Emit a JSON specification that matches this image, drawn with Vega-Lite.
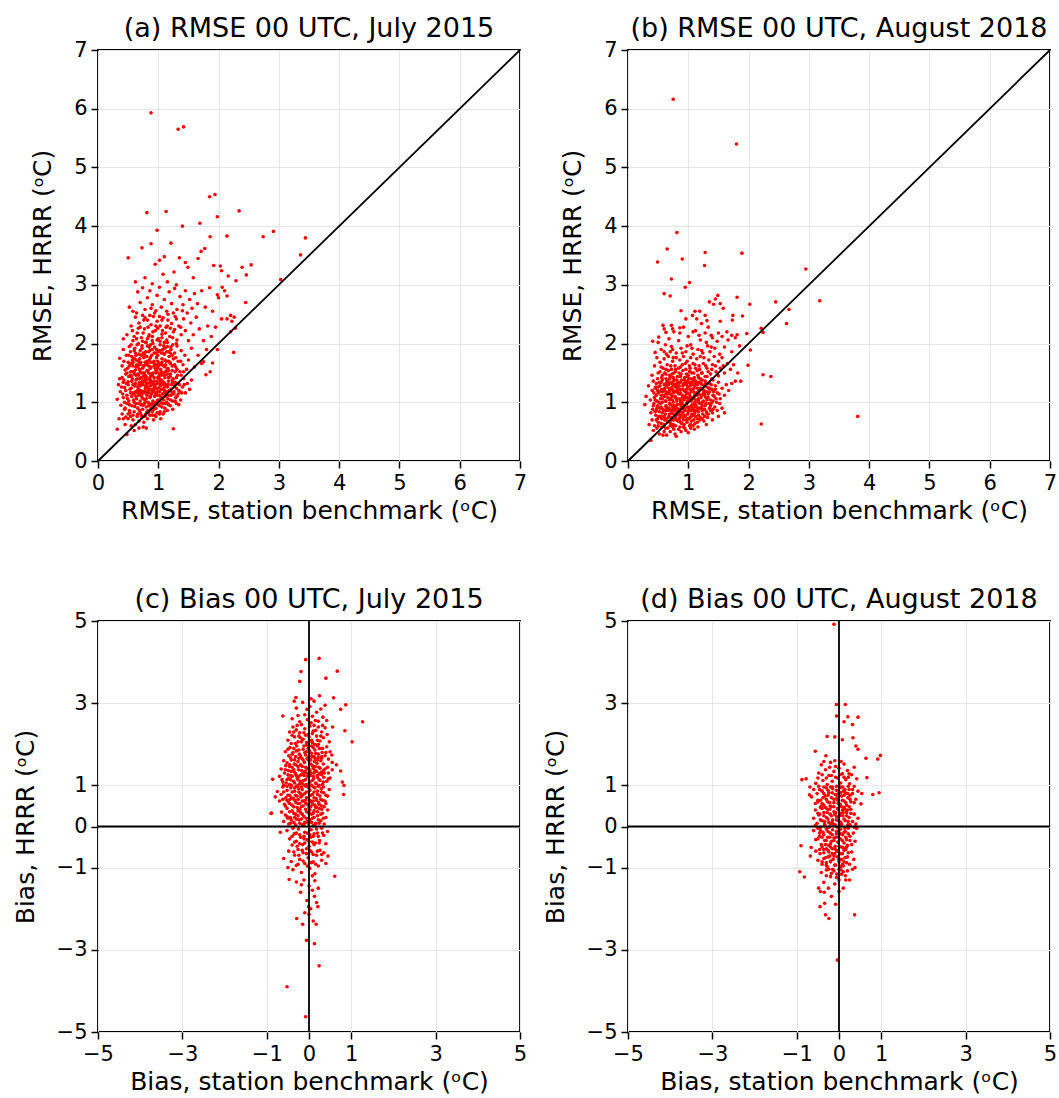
{
"$schema": "https://vega.github.io/schema/vega-lite/v6.json",
"datasets": {
"a": [
{"x":0.88,"y":5.93},{"x":1.33,"y":5.65},{"x":1.42,"y":5.69},{"x":1.85,"y":4.5},{"x":1.94,"y":4.54},{"x":0.81,"y":4.23},{"x":1.13,"y":4.25},{"x":2.34,"y":4.26},{"x":1.98,"y":4.16},{"x":1.4,"y":4.0},{"x":0.98,"y":3.93},{"x":1.69,"y":4.05},{"x":0.73,"y":3.63},{"x":0.88,"y":3.7},{"x":1.21,"y":3.71},{"x":0.5,"y":3.46},{"x":2.74,"y":3.82},{"x":2.91,"y":3.91},{"x":3.44,"y":3.8},{"x":1.86,"y":3.82},{"x":2.14,"y":3.83},{"x":3.36,"y":3.51},{"x":3.03,"y":3.09},{"x":1.71,"y":3.57},{"x":1.77,"y":3.62},{"x":2.39,"y":3.3},{"x":2.54,"y":3.34},{"x":2.46,"y":3.17},{"x":1.92,"y":3.33},{"x":2.03,"y":3.32},{"x":2.05,"y":3.24},{"x":2.45,"y":2.7},{"x":2.25,"y":1.85},{"x":1.25,"y":0.55},{"x":0.32,"y":0.54},{"x":0.48,"y":0.45},{"x":2.16,"y":3.15},{"x":2.29,"y":3.07},{"x":2.14,"y":2.81},{"x":2.26,"y":2.45},{"x":2.2,"y":2.48},{"x":2.28,"y":2.26},{"x":2.14,"y":2.42},{"x":1.98,"y":2.83},{"x":2.06,"y":2.96},{"x":1.79,"y":1.47},{"x":1.9,"y":1.67},{"x":1.98,"y":1.9},{"x":1.75,"y":1.69},
{"x":0.62,"y":3.05},{"x":0.78,"y":3.12},{"x":0.95,"y":3.35},{"x":1.02,"y":3.42},{"x":1.08,"y":3.18},{"x":1.15,"y":3.05},{"x":1.26,"y":3.22},{"x":1.35,"y":3.46},{"x":1.45,"y":3.38},{"x":1.49,"y":3.3},{"x":1.58,"y":3.12},{"x":1.66,"y":3.45},{"x":0.9,"y":3.02},{"x":1.3,"y":3.0},{"x":1.1,"y":3.48},
{"x":0.52,"y":2.62},{"x":0.58,"y":2.55},{"x":0.66,"y":2.88},{"x":0.7,"y":2.7},{"x":0.74,"y":2.95},{"x":0.78,"y":2.58},{"x":0.82,"y":2.78},{"x":0.86,"y":2.9},{"x":0.9,"y":2.66},{"x":0.94,"y":2.52},{"x":0.98,"y":2.82},{"x":1.02,"y":2.96},{"x":1.05,"y":2.62},{"x":1.1,"y":2.75},{"x":1.14,"y":2.55},{"x":1.18,"y":2.88},{"x":1.22,"y":2.68},{"x":1.27,"y":2.94},{"x":1.31,"y":2.58},{"x":1.36,"y":2.8},{"x":1.41,"y":2.66},{"x":1.45,"y":2.9},{"x":1.48,"y":2.52},{"x":1.52,"y":2.75},{"x":1.56,"y":2.6},{"x":1.6,"y":2.85},{"x":1.65,"y":2.68},{"x":1.72,"y":2.9},{"x":1.78,"y":2.62},{"x":1.85,"y":2.95},{"x":1.9,"y":2.55},{"x":2.0,"y":2.78},{"x":2.1,"y":2.9},{"x":0.88,"y":2.6},{"x":1.25,"y":2.52},
{"x":0.42,"y":2.08},{"x":0.48,"y":2.15},{"x":0.55,"y":2.3},{"x":0.58,"y":2.05},{"x":0.62,"y":2.45},{"x":0.65,"y":2.18},{"x":0.68,"y":2.35},{"x":0.72,"y":2.1},{"x":0.74,"y":2.48},{"x":0.77,"y":2.25},{"x":0.8,"y":2.02},{"x":0.82,"y":2.4},{"x":0.85,"y":2.15},{"x":0.88,"y":2.32},{"x":0.9,"y":2.05},{"x":0.92,"y":2.46},{"x":0.95,"y":2.22},{"x":0.98,"y":2.38},{"x":1.0,"y":2.08},{"x":1.03,"y":2.3},{"x":1.06,"y":2.16},{"x":1.08,"y":2.44},{"x":1.1,"y":2.02},{"x":1.13,"y":2.28},{"x":1.16,"y":2.4},{"x":1.19,"y":2.12},{"x":1.22,"y":2.34},{"x":1.25,"y":2.2},{"x":1.28,"y":2.46},{"x":1.31,"y":2.06},{"x":1.34,"y":2.3},{"x":1.38,"y":2.15},{"x":1.42,"y":2.42},{"x":1.45,"y":2.22},{"x":1.5,"y":2.05},{"x":1.54,"y":2.35},{"x":1.58,"y":2.15},{"x":1.63,"y":2.45},{"x":1.68,"y":2.25},{"x":1.75,"y":2.05},{"x":1.82,"y":2.3},{"x":1.88,"y":2.12},{"x":1.95,"y":2.28},{"x":2.05,"y":2.42},{"x":2.2,"y":2.2},{"x":2.22,"y":2.38},{"x":0.7,"y":2.28},{"x":0.84,"y":2.12},{"x":0.96,"y":2.3},{"x":1.12,"y":2.18},{"x":0.6,"y":2.12},{"x":0.78,"y":2.44},{"x":1.02,"y":2.46},{"x":1.2,"y":2.26},
{"x":0.36,"y":1.75},{"x":0.4,"y":1.62},{"x":0.42,"y":1.9},{"x":0.45,"y":1.55},{"x":0.47,"y":1.8},{"x":0.5,"y":1.68},{"x":0.52,"y":1.95},{"x":0.54,"y":1.52},{"x":0.56,"y":1.78},{"x":0.58,"y":1.62},{"x":0.6,"y":1.88},{"x":0.62,"y":1.55},{"x":0.63,"y":1.72},{"x":0.65,"y":1.98},{"x":0.66,"y":1.6},{"x":0.68,"y":1.82},{"x":0.7,"y":1.52},{"x":0.71,"y":1.68},{"x":0.73,"y":1.92},{"x":0.74,"y":1.58},{"x":0.76,"y":1.76},{"x":0.77,"y":1.5},{"x":0.79,"y":1.86},{"x":0.8,"y":1.64},{"x":0.82,"y":1.96},{"x":0.83,"y":1.54},{"x":0.85,"y":1.72},{"x":0.86,"y":1.88},{"x":0.88,"y":1.6},{"x":0.89,"y":1.8},{"x":0.91,"y":1.5},{"x":0.92,"y":1.68},{"x":0.94,"y":1.94},{"x":0.95,"y":1.58},{"x":0.97,"y":1.76},{"x":0.98,"y":1.52},{"x":1.0,"y":1.86},{"x":1.01,"y":1.66},{"x":1.03,"y":1.98},{"x":1.04,"y":1.56},{"x":1.06,"y":1.74},{"x":1.07,"y":1.9},{"x":1.09,"y":1.62},{"x":1.1,"y":1.82},{"x":1.12,"y":1.52},{"x":1.13,"y":1.7},{"x":1.15,"y":1.95},{"x":1.16,"y":1.58},{"x":1.18,"y":1.78},{"x":1.2,"y":1.66},{"x":1.21,"y":1.9},{"x":1.23,"y":1.54},{"x":1.25,"y":1.74},{"x":1.27,"y":1.84},{"x":1.29,"y":1.6},{"x":1.31,"y":1.96},{"x":1.33,"y":1.7},{"x":1.36,"y":1.52},{"x":1.38,"y":1.88},{"x":1.41,"y":1.64},{"x":1.44,"y":1.8},{"x":1.47,"y":1.56},{"x":1.5,"y":1.72},{"x":1.55,"y":1.92},{"x":1.6,"y":1.6},{"x":1.66,"y":1.8},{"x":1.72,"y":1.66},{"x":1.8,"y":1.9},{"x":1.86,"y":1.52},{"x":0.55,"y":1.66},{"x":0.6,"y":1.75},{"x":0.67,"y":1.7},{"x":0.72,"y":1.8},{"x":0.78,"y":1.68},{"x":0.84,"y":1.62},{"x":0.87,"y":1.98},{"x":0.93,"y":1.84},{"x":0.99,"y":1.7},{"x":1.05,"y":1.64},{"x":1.11,"y":1.92},{"x":1.17,"y":1.86},{"x":1.24,"y":1.98},{"x":0.69,"y":1.64},{"x":0.81,"y":1.78},{"x":0.96,"y":1.64},
{"x":0.32,"y":1.05},{"x":0.34,"y":1.3},{"x":0.37,"y":1.18},{"x":0.4,"y":1.42},{"x":0.42,"y":1.08},{"x":0.44,"y":1.25},{"x":0.46,"y":1.48},{"x":0.48,"y":1.12},{"x":0.5,"y":1.35},{"x":0.51,"y":1.02},{"x":0.53,"y":1.22},{"x":0.55,"y":1.44},{"x":0.56,"y":1.1},{"x":0.58,"y":1.3},{"x":0.59,"y":1.04},{"x":0.6,"y":1.48},{"x":0.62,"y":1.18},{"x":0.63,"y":1.38},{"x":0.64,"y":1.06},{"x":0.66,"y":1.26},{"x":0.67,"y":1.46},{"x":0.68,"y":1.12},{"x":0.69,"y":1.34},{"x":0.7,"y":1.02},{"x":0.71,"y":1.2},{"x":0.72,"y":1.42},{"x":0.73,"y":1.08},{"x":0.74,"y":1.3},{"x":0.75,"y":1.5},{"x":0.76,"y":1.16},{"x":0.77,"y":1.36},{"x":0.78,"y":1.04},{"x":0.79,"y":1.24},{"x":0.8,"y":1.44},{"x":0.81,"y":1.12},{"x":0.82,"y":1.32},{"x":0.83,"y":1.0},{"x":0.84,"y":1.2},{"x":0.85,"y":1.4},{"x":0.86,"y":1.08},{"x":0.87,"y":1.28},{"x":0.88,"y":1.48},{"x":0.89,"y":1.14},{"x":0.9,"y":1.34},{"x":0.91,"y":1.02},{"x":0.92,"y":1.22},{"x":0.93,"y":1.42},{"x":0.94,"y":1.1},{"x":0.95,"y":1.3},{"x":0.96,"y":1.5},{"x":0.97,"y":1.16},{"x":0.98,"y":1.36},{"x":0.99,"y":1.04},{"x":1.0,"y":1.24},{"x":1.01,"y":1.44},{"x":1.02,"y":1.12},{"x":1.03,"y":1.32},{"x":1.04,"y":1.06},{"x":1.05,"y":1.22},{"x":1.06,"y":1.46},{"x":1.07,"y":1.14},{"x":1.08,"y":1.34},{"x":1.09,"y":1.04},{"x":1.1,"y":1.26},{"x":1.11,"y":1.42},{"x":1.12,"y":1.1},{"x":1.13,"y":1.3},{"x":1.14,"y":1.18},{"x":1.15,"y":1.48},{"x":1.16,"y":1.06},{"x":1.17,"y":1.36},{"x":1.18,"y":1.2},{"x":1.2,"y":1.44},{"x":1.21,"y":1.12},{"x":1.22,"y":1.3},{"x":1.24,"y":1.02},{"x":1.25,"y":1.4},{"x":1.26,"y":1.18},{"x":1.28,"y":1.34},{"x":1.29,"y":1.08},{"x":1.3,"y":1.24},{"x":1.32,"y":1.46},{"x":1.33,"y":1.14},{"x":1.35,"y":1.3},{"x":1.37,"y":1.04},{"x":1.4,"y":1.26},{"x":1.42,"y":1.4},{"x":1.45,"y":1.16},{"x":1.48,"y":1.32},{"x":1.52,"y":1.22},{"x":1.55,"y":1.38},{"x":0.36,"y":1.4},{"x":0.61,"y":1.28},{"x":0.65,"y":1.4},{"x":0.7,"y":1.28},{"x":0.74,"y":1.18},{"x":0.78,"y":1.4},{"x":0.83,"y":1.26},{"x":0.87,"y":1.38},{"x":0.9,"y":1.18},{"x":0.94,"y":1.26},{"x":0.98,"y":1.18},{"x":1.02,"y":1.4},{"x":1.06,"y":1.3},{"x":1.1,"y":1.16},{"x":0.8,"y":1.06},{"x":0.72,"y":1.12},{"x":0.66,"y":1.16},
{"x":0.35,"y":0.72},{"x":0.38,"y":0.95},{"x":0.4,"y":0.8},{"x":0.42,"y":0.72},{"x":0.44,"y":0.88},{"x":0.46,"y":0.75},{"x":0.48,"y":0.98},{"x":0.5,"y":0.72},{"x":0.52,"y":0.86},{"x":0.54,"y":0.76},{"x":0.56,"y":0.94},{"x":0.58,"y":0.7},{"x":0.6,"y":0.84},{"x":0.62,"y":0.62},{"x":0.63,"y":0.98},{"x":0.65,"y":0.76},{"x":0.66,"y":0.9},{"x":0.68,"y":0.68},{"x":0.7,"y":0.82},{"x":0.71,"y":0.96},{"x":0.73,"y":0.74},{"x":0.74,"y":0.88},{"x":0.76,"y":0.66},{"x":0.77,"y":0.98},{"x":0.79,"y":0.8},{"x":0.8,"y":0.92},{"x":0.82,"y":0.72},{"x":0.83,"y":0.86},{"x":0.85,"y":0.98},{"x":0.86,"y":0.78},{"x":0.88,"y":0.9},{"x":0.9,"y":0.84},{"x":0.92,"y":0.96},{"x":0.94,"y":0.78},{"x":0.96,"y":0.9},{"x":0.98,"y":0.82},{"x":1.0,"y":0.96},{"x":1.03,"y":0.84},{"x":1.06,"y":0.92},{"x":1.08,"y":0.8},{"x":1.12,"y":0.98},{"x":1.15,"y":0.86},{"x":1.2,"y":0.94},{"x":1.24,"y":0.88},{"x":1.3,"y":0.98},{"x":1.34,"y":0.96},{"x":0.8,"y":0.56},{"x":0.55,"y":0.6},{"x":0.45,"y":0.62},{"x":0.6,"y":0.52},{"x":0.75,"y":0.58},{"x":0.92,"y":0.7},{"x":1.04,"y":0.72},{"x":0.68,"y":0.56},
{"x":0.45,"y":0.9},{"x":0.53,"y":0.82},{"x":0.61,"y":0.93},{"x":0.69,"y":0.86},{"x":0.75,"y":0.95},{"x":0.81,"y":0.84},{"x":0.87,"y":0.96},{"x":0.93,"y":0.88},{"x":0.99,"y":0.97},{"x":1.05,"y":0.99},{"x":1.11,"y":0.9},{"x":1.17,"y":0.96},
{"x":0.41,"y":1.14},{"x":0.49,"y":1.06},{"x":0.57,"y":1.16},{"x":0.63,"y":1.1},{"x":0.69,"y":1.18},{"x":0.75,"y":1.06},{"x":0.81,"y":1.16},{"x":0.87,"y":1.1},{"x":0.93,"y":1.18},{"x":0.99,"y":1.12},{"x":1.05,"y":1.08},{"x":1.11,"y":1.2},{"x":1.17,"y":1.12},{"x":1.23,"y":1.16},{"x":1.31,"y":1.1},{"x":1.39,"y":1.16},
{"x":0.39,"y":1.26},{"x":0.47,"y":1.32},{"x":0.55,"y":1.24},{"x":0.61,"y":1.3},{"x":0.67,"y":1.22},{"x":0.73,"y":1.34},{"x":0.79,"y":1.28},{"x":0.85,"y":1.22},{"x":0.91,"y":1.3},{"x":0.97,"y":1.24},{"x":1.03,"y":1.28},{"x":1.09,"y":1.34},{"x":1.15,"y":1.26},{"x":1.21,"y":1.22},{"x":1.27,"y":1.28},{"x":1.34,"y":1.2},{"x":1.43,"y":1.3},
{"x":0.43,"y":1.38},{"x":0.51,"y":1.44},{"x":0.57,"y":1.4},{"x":0.63,"y":1.46},{"x":0.69,"y":1.4},{"x":0.75,"y":1.44},{"x":0.81,"y":1.38},{"x":0.87,"y":1.44},{"x":0.93,"y":1.36},{"x":0.99,"y":1.42},{"x":1.05,"y":1.38},{"x":1.11,"y":1.46},{"x":1.17,"y":1.42},{"x":1.23,"y":1.38},{"x":1.3,"y":1.42},{"x":1.38,"y":1.46},
{"x":0.43,"y":1.7},{"x":0.49,"y":1.58},{"x":0.57,"y":1.52},{"x":0.63,"y":1.6},{"x":0.69,"y":1.56},{"x":0.75,"y":1.62},{"x":0.81,"y":1.54},{"x":0.87,"y":1.58},{"x":0.93,"y":1.62},{"x":0.99,"y":1.58},{"x":1.05,"y":1.52},{"x":1.11,"y":1.6},{"x":1.17,"y":1.54},{"x":1.23,"y":1.62},{"x":1.31,"y":1.56},{"x":1.42,"y":1.52},
{"x":0.51,"y":1.8},{"x":0.57,"y":1.72},{"x":0.63,"y":1.8},{"x":0.69,"y":1.74},{"x":0.75,"y":1.84},{"x":0.81,"y":1.7},{"x":0.87,"y":1.76},{"x":0.93,"y":1.7},{"x":0.99,"y":1.8},{"x":1.05,"y":1.84},{"x":1.11,"y":1.72},{"x":1.17,"y":1.7},{"x":1.23,"y":1.8},{"x":1.29,"y":1.76},{"x":1.37,"y":1.7},
{"x":0.55,"y":1.98},{"x":0.61,"y":1.92},{"x":0.67,"y":2.0},{"x":0.73,"y":1.96},{"x":0.79,"y":2.02},{"x":0.85,"y":1.94},{"x":0.91,"y":2.0},{"x":0.97,"y":1.9},{"x":1.03,"y":2.04},{"x":1.09,"y":1.96},{"x":1.15,"y":2.02},{"x":1.21,"y":1.94},{"x":1.3,"y":2.0},
{"x":0.57,"y":2.22},{"x":0.67,"y":2.26},{"x":0.75,"y":2.18},{"x":0.83,"y":2.28},{"x":0.91,"y":2.2},{"x":0.99,"y":2.26},{"x":1.07,"y":2.22},{"x":1.15,"y":2.3},{"x":1.27,"y":2.24},{"x":1.37,"y":2.28},
{"x":0.64,"y":2.52},{"x":0.76,"y":2.4},{"x":0.86,"y":2.48},{"x":0.96,"y":2.56},{"x":1.06,"y":2.4},{"x":1.16,"y":2.5},{"x":1.3,"y":2.42},{"x":1.4,"y":2.56},
{"x":0.5,"y":0.8},{"x":0.58,"y":0.78},{"x":0.66,"y":0.8},{"x":0.72,"y":0.78},{"x":0.78,"y":0.76},{"x":0.84,"y":0.82},{"x":0.9,"y":0.78},{"x":0.96,"y":0.76},{"x":1.02,"y":0.8},{"x":1.1,"y":0.84},
{"x":0.44,"y":1.0},{"x":0.52,"y":0.96},{"x":0.6,"y":1.0},{"x":0.66,"y":0.98},{"x":0.72,"y":0.96},{"x":0.78,"y":1.0},{"x":0.84,"y":0.94},{"x":0.9,"y":0.98},{"x":0.96,"y":1.0},{"x":1.02,"y":0.94},{"x":1.08,"y":0.98},{"x":1.14,"y":1.0},{"x":1.2,"y":1.04},{"x":1.28,"y":1.02},
{"x":0.46,"y":1.2},{"x":0.54,"y":1.16},{"x":0.6,"y":1.14},{"x":0.66,"y":1.2},{"x":0.72,"y":1.16},{"x":0.78,"y":1.2},{"x":0.84,"y":1.16},{"x":0.9,"y":1.22},{"x":0.96,"y":1.14},{"x":1.02,"y":1.18},{"x":1.08,"y":1.22},{"x":1.14,"y":1.14},{"x":1.2,"y":1.2},{"x":1.26,"y":1.14},{"x":1.36,"y":1.18},
{"x":0.42,"y":1.34},{"x":0.5,"y":1.3},{"x":0.56,"y":1.36},{"x":0.62,"y":1.32},{"x":0.68,"y":1.3},{"x":0.74,"y":1.36},{"x":0.8,"y":1.32},{"x":0.86,"y":1.34},{"x":0.92,"y":1.3},{"x":0.98,"y":1.32},{"x":1.04,"y":1.36},{"x":1.1,"y":1.32},{"x":1.16,"y":1.3},{"x":1.24,"y":1.34},{"x":1.32,"y":1.32},
{"x":0.48,"y":1.5},{"x":0.54,"y":1.46},{"x":0.6,"y":1.52},{"x":0.66,"y":1.48},{"x":0.72,"y":1.5},{"x":0.78,"y":1.46},{"x":0.84,"y":1.5},{"x":0.9,"y":1.46},{"x":0.96,"y":1.54},{"x":1.02,"y":1.48},{"x":1.08,"y":1.5},{"x":1.14,"y":1.54},{"x":1.2,"y":1.48},{"x":1.28,"y":1.52},
{"x":0.52,"y":1.62},{"x":0.58,"y":1.68},{"x":0.64,"y":1.64},{"x":0.7,"y":1.66},{"x":0.76,"y":1.62},{"x":0.82,"y":1.66},{"x":0.88,"y":1.68},{"x":0.94,"y":1.64},{"x":1.0,"y":1.62},{"x":1.06,"y":1.68},{"x":1.12,"y":1.64},{"x":1.19,"y":1.68},{"x":1.27,"y":1.64},
{"x":0.54,"y":1.86},{"x":0.62,"y":1.84},{"x":0.7,"y":1.88},{"x":0.77,"y":1.82},{"x":0.84,"y":1.86},{"x":0.9,"y":1.9},{"x":0.96,"y":1.84},{"x":1.02,"y":1.88},{"x":1.08,"y":1.84},{"x":1.14,"y":1.86},{"x":1.2,"y":1.84},
{"x":0.64,"y":2.08},{"x":0.74,"y":2.04},{"x":0.82,"y":2.08},{"x":0.9,"y":2.12},{"x":0.98,"y":2.06},{"x":1.06,"y":2.1},{"x":1.14,"y":2.06},{"x":1.24,"y":2.1}
],
"b": [
{"x":0.75,"y":6.16},{"x":1.8,"y":5.4},{"x":0.81,"y":3.89},{"x":0.65,"y":3.61},{"x":0.49,"y":3.39},{"x":0.9,"y":3.44},{"x":1.28,"y":3.55},{"x":1.27,"y":3.33},{"x":1.89,"y":3.54},{"x":2.95,"y":3.27},{"x":0.72,"y":3.1},{"x":1.02,"y":3.04},{"x":0.95,"y":2.96},{"x":0.6,"y":2.85},{"x":0.7,"y":2.81},{"x":1.49,"y":2.82},{"x":1.45,"y":2.76},{"x":1.81,"y":2.79},{"x":3.18,"y":2.73},{"x":2.45,"y":2.71},{"x":2.02,"y":2.67},{"x":2.67,"y":2.58},{"x":2.63,"y":2.34},{"x":2.21,"y":2.26},{"x":2.24,"y":2.19},{"x":1.9,"y":2.47},{"x":1.74,"y":2.48},{"x":2.24,"y":1.47},{"x":2.37,"y":1.44},{"x":2.21,"y":0.63},{"x":3.81,"y":0.76},{"x":1.87,"y":1.36},{"x":1.99,"y":1.63},{"x":2.03,"y":1.89},{"x":0.38,"y":0.35},{"x":0.28,"y":0.96},
{"x":1.35,"y":2.71},{"x":1.42,"y":2.67},{"x":1.53,"y":2.68},{"x":1.58,"y":2.6},{"x":0.88,"y":2.56},{"x":1.11,"y":2.55},{"x":1.19,"y":2.55},{"x":1.28,"y":2.48},{"x":1.07,"y":2.48},{"x":1.14,"y":2.42},{"x":0.96,"y":2.42},{"x":1.31,"y":2.39},{"x":1.53,"y":2.38},{"x":1.73,"y":2.4},{"x":0.58,"y":2.31},{"x":0.72,"y":2.31},{"x":0.74,"y":2.25},{"x":0.86,"y":2.27},{"x":1.22,"y":2.34},{"x":1.33,"y":2.28},{"x":0.63,"y":2.19},{"x":0.51,"y":2.11},{"x":1.08,"y":2.2},{"x":1.18,"y":2.14},{"x":1.38,"y":2.14},{"x":1.5,"y":2.18},{"x":1.64,"y":2.2},{"x":1.72,"y":2.14},{"x":1.81,"y":2.15},{"x":1.97,"y":2.17},{"x":0.41,"y":2.04},
{"x":0.45,"y":1.85},{"x":0.5,"y":2.02},{"x":0.55,"y":1.9},{"x":0.6,"y":2.25},{"x":0.64,"y":1.82},{"x":0.68,"y":2.08},{"x":0.72,"y":1.95},{"x":0.76,"y":2.2},{"x":0.8,"y":1.84},{"x":0.84,"y":2.05},{"x":0.88,"y":1.92},{"x":0.92,"y":2.28},{"x":0.96,"y":1.86},{"x":1.0,"y":2.12},{"x":1.04,"y":1.98},{"x":1.08,"y":1.82},{"x":1.12,"y":2.22},{"x":1.16,"y":1.9},{"x":1.2,"y":2.06},{"x":1.24,"y":1.84},{"x":1.28,"y":2.18},{"x":1.32,"y":1.96},{"x":1.36,"y":1.86},{"x":1.4,"y":2.1},{"x":1.44,"y":1.92},{"x":1.48,"y":2.04},{"x":1.52,"y":1.82},{"x":1.56,"y":2.12},{"x":1.6,"y":1.94},{"x":1.66,"y":2.06},{"x":1.72,"y":1.86},{"x":1.78,"y":2.1},{"x":1.85,"y":1.96},{"x":0.7,"y":1.86},{"x":0.98,"y":1.96},{"x":1.3,"y":2.02},{"x":0.62,"y":1.98},{"x":0.86,"y":2.18},
{"x":0.4,"y":1.46},{"x":0.44,"y":1.62},{"x":0.48,"y":1.76},{"x":0.5,"y":1.5},{"x":0.53,"y":1.68},{"x":0.56,"y":1.42},{"x":0.58,"y":1.58},{"x":0.6,"y":1.74},{"x":0.63,"y":1.48},{"x":0.65,"y":1.64},{"x":0.67,"y":1.78},{"x":0.7,"y":1.44},{"x":0.72,"y":1.56},{"x":0.74,"y":1.7},{"x":0.76,"y":1.5},{"x":0.78,"y":1.62},{"x":0.8,"y":1.76},{"x":0.82,"y":1.44},{"x":0.84,"y":1.58},{"x":0.86,"y":1.72},{"x":0.88,"y":1.48},{"x":0.9,"y":1.64},{"x":0.92,"y":1.78},{"x":0.94,"y":1.42},{"x":0.96,"y":1.56},{"x":0.98,"y":1.7},{"x":1.0,"y":1.46},{"x":1.02,"y":1.62},{"x":1.04,"y":1.76},{"x":1.06,"y":1.5},{"x":1.08,"y":1.66},{"x":1.1,"y":1.42},{"x":1.12,"y":1.58},{"x":1.14,"y":1.74},{"x":1.16,"y":1.46},{"x":1.18,"y":1.62},{"x":1.2,"y":1.78},{"x":1.22,"y":1.5},{"x":1.25,"y":1.66},{"x":1.28,"y":1.44},{"x":1.31,"y":1.58},{"x":1.34,"y":1.72},{"x":1.37,"y":1.48},{"x":1.4,"y":1.64},{"x":1.43,"y":1.78},{"x":1.46,"y":1.52},{"x":1.5,"y":1.7},{"x":1.53,"y":1.58},{"x":1.56,"y":1.76},{"x":1.6,"y":1.5},{"x":1.65,"y":1.66},{"x":1.7,"y":1.56},{"x":1.75,"y":1.64},{"x":1.82,"y":1.5},{"x":1.5,"y":1.45},{"x":1.58,"y":1.62},{"x":0.75,"y":1.76},{"x":1.02,"y":1.52},{"x":1.26,"y":1.76},{"x":1.45,"y":1.62},
{"x":0.3,"y":1.1},{"x":0.34,"y":1.28},{"x":0.37,"y":1.04},{"x":0.4,"y":1.2},{"x":0.42,"y":1.36},{"x":0.44,"y":1.08},{"x":0.46,"y":1.26},{"x":0.48,"y":1.02},{"x":0.5,"y":1.16},{"x":0.52,"y":1.34},{"x":0.54,"y":1.06},{"x":0.56,"y":1.22},{"x":0.57,"y":1.38},{"x":0.59,"y":1.12},{"x":0.6,"y":1.3},{"x":0.62,"y":1.02},{"x":0.63,"y":1.18},{"x":0.65,"y":1.36},{"x":0.66,"y":1.08},{"x":0.68,"y":1.24},{"x":0.69,"y":1.4},{"x":0.71,"y":1.14},{"x":0.72,"y":1.32},{"x":0.74,"y":1.04},{"x":0.75,"y":1.2},{"x":0.77,"y":1.38},{"x":0.78,"y":1.1},{"x":0.8,"y":1.28},{"x":0.81,"y":1.02},{"x":0.83,"y":1.16},{"x":0.84,"y":1.34},{"x":0.86,"y":1.06},{"x":0.87,"y":1.22},{"x":0.89,"y":1.38},{"x":0.9,"y":1.12},{"x":0.92,"y":1.3},{"x":0.93,"y":1.04},{"x":0.95,"y":1.18},{"x":0.96,"y":1.36},{"x":0.98,"y":1.08},{"x":0.99,"y":1.26},{"x":1.01,"y":1.4},{"x":1.02,"y":1.14},{"x":1.04,"y":1.32},{"x":1.05,"y":1.02},{"x":1.07,"y":1.2},{"x":1.08,"y":1.38},{"x":1.1,"y":1.1},{"x":1.11,"y":1.28},{"x":1.13,"y":1.04},{"x":1.14,"y":1.16},{"x":1.16,"y":1.34},{"x":1.17,"y":1.06},{"x":1.19,"y":1.24},{"x":1.2,"y":1.4},{"x":1.22,"y":1.12},{"x":1.23,"y":1.3},{"x":1.25,"y":1.02},{"x":1.26,"y":1.2},{"x":1.28,"y":1.36},{"x":1.29,"y":1.08},{"x":1.31,"y":1.26},{"x":1.33,"y":1.14},{"x":1.35,"y":1.32},{"x":1.37,"y":1.04},{"x":1.39,"y":1.22},{"x":1.41,"y":1.38},{"x":1.43,"y":1.1},{"x":1.45,"y":1.28},{"x":1.48,"y":1.16},{"x":1.5,"y":1.34},{"x":1.53,"y":1.06},{"x":1.56,"y":1.24},{"x":1.6,"y":1.12},{"x":1.63,"y":1.3},{"x":1.67,"y":1.2},{"x":1.72,"y":1.32},{"x":1.78,"y":1.36},{"x":0.5,"y":1.26},{"x":0.55,"y":1.12},{"x":0.6,"y":1.2},{"x":0.64,"y":1.28},{"x":0.7,"y":1.06},{"x":0.73,"y":1.26},{"x":0.79,"y":1.18},{"x":0.85,"y":1.28},{"x":0.88,"y":1.02},{"x":0.91,"y":1.22},{"x":0.97,"y":1.3},{"x":1.0,"y":1.06},{"x":1.03,"y":1.22},{"x":1.06,"y":1.3},{"x":1.09,"y":1.18},{"x":1.12,"y":1.36},{"x":1.15,"y":1.24},{"x":1.18,"y":1.14},{"x":1.21,"y":1.32},{"x":1.24,"y":1.22},{"x":1.27,"y":1.12},{"x":1.3,"y":1.18},{"x":1.34,"y":1.24},{"x":1.38,"y":1.3},{"x":1.42,"y":1.18},{"x":1.46,"y":1.06},{"x":0.82,"y":1.24},{"x":0.76,"y":1.3},{"x":0.67,"y":1.16},{"x":0.94,"y":1.1},{"x":1.0,"y":1.34},
{"x":0.35,"y":0.62},{"x":0.38,"y":0.82},{"x":0.4,"y":0.7},{"x":0.42,"y":0.94},{"x":0.44,"y":0.6},{"x":0.46,"y":0.78},{"x":0.48,"y":0.9},{"x":0.5,"y":0.66},{"x":0.52,"y":0.84},{"x":0.54,"y":0.98},{"x":0.56,"y":0.72},{"x":0.58,"y":0.88},{"x":0.6,"y":0.62},{"x":0.62,"y":0.8},{"x":0.63,"y":0.94},{"x":0.65,"y":0.68},{"x":0.66,"y":0.86},{"x":0.68,"y":0.76},{"x":0.7,"y":0.96},{"x":0.71,"y":0.64},{"x":0.73,"y":0.82},{"x":0.74,"y":0.92},{"x":0.76,"y":0.7},{"x":0.77,"y":0.86},{"x":0.79,"y":0.6},{"x":0.8,"y":0.78},{"x":0.82,"y":0.96},{"x":0.83,"y":0.68},{"x":0.85,"y":0.88},{"x":0.86,"y":0.74},{"x":0.88,"y":0.94},{"x":0.89,"y":0.64},{"x":0.91,"y":0.82},{"x":0.92,"y":0.7},{"x":0.94,"y":0.9},{"x":0.95,"y":0.76},{"x":0.97,"y":0.98},{"x":0.98,"y":0.66},{"x":1.0,"y":0.84},{"x":1.01,"y":0.72},{"x":1.03,"y":0.92},{"x":1.04,"y":0.62},{"x":1.06,"y":0.8},{"x":1.07,"y":0.96},{"x":1.09,"y":0.7},{"x":1.1,"y":0.86},{"x":1.12,"y":0.76},{"x":1.13,"y":0.94},{"x":1.15,"y":0.66},{"x":1.17,"y":0.84},{"x":1.19,"y":0.98},{"x":1.2,"y":0.74},{"x":1.22,"y":0.9},{"x":1.24,"y":0.8},{"x":1.26,"y":0.68},{"x":1.28,"y":0.94},{"x":1.3,"y":0.84},{"x":1.32,"y":0.74},{"x":1.35,"y":0.9},{"x":1.38,"y":0.98},{"x":1.4,"y":0.82},{"x":1.44,"y":0.92},{"x":1.48,"y":0.86},{"x":1.52,"y":0.98},{"x":1.56,"y":0.9},{"x":0.55,"y":0.92},{"x":0.6,"y":0.76},{"x":0.68,"y":0.9},{"x":0.72,"y":0.74},{"x":0.78,"y":0.94},{"x":0.84,"y":0.8},{"x":0.9,"y":0.98},{"x":0.93,"y":0.78},{"x":0.99,"y":0.92},{"x":1.05,"y":0.86},{"x":1.11,"y":0.98},{"x":1.16,"y":0.9},{"x":1.22,"y":0.98},{"x":1.34,"y":0.98},{"x":0.87,"y":0.84},{"x":0.75,"y":0.8},
{"x":0.42,"y":0.52},{"x":0.48,"y":0.56},{"x":0.52,"y":0.46},{"x":0.56,"y":0.58},{"x":0.6,"y":0.5},{"x":0.64,"y":0.44},{"x":0.66,"y":0.56},{"x":0.7,"y":0.5},{"x":0.74,"y":0.58},{"x":0.78,"y":0.46},{"x":0.8,"y":0.42},{"x":0.84,"y":0.54},{"x":0.88,"y":0.5},{"x":0.92,"y":0.58},{"x":0.96,"y":0.52},{"x":1.0,"y":0.48},{"x":1.04,"y":0.56},{"x":1.1,"y":0.54},{"x":1.16,"y":0.58},{"x":0.58,"y":0.44},{"x":1.3,"y":0.62},{"x":1.4,"y":0.7},{"x":1.5,"y":0.76},{"x":1.6,"y":0.82},
{"x":0.47,"y":0.7},{"x":0.55,"y":0.64},{"x":0.63,"y":0.72},{"x":0.69,"y":0.66},{"x":0.75,"y":0.62},{"x":0.81,"y":0.7},{"x":0.87,"y":0.66},{"x":0.93,"y":0.62},{"x":0.99,"y":0.72},{"x":1.05,"y":0.68},{"x":1.11,"y":0.64},{"x":1.19,"y":0.7},{"x":1.27,"y":0.76},
{"x":0.45,"y":0.84},{"x":0.51,"y":0.76},{"x":0.57,"y":0.82},{"x":0.63,"y":0.86},{"x":0.69,"y":0.8},{"x":0.75,"y":0.88},{"x":0.81,"y":0.82},{"x":0.87,"y":0.78},{"x":0.93,"y":0.86},{"x":0.99,"y":0.8},{"x":1.05,"y":0.76},{"x":1.11,"y":0.82},{"x":1.17,"y":0.78},{"x":1.23,"y":0.86},{"x":1.31,"y":0.8},{"x":1.41,"y":0.88},
{"x":0.43,"y":0.98},{"x":0.49,"y":0.94},{"x":0.57,"y":1.0},{"x":0.63,"y":0.92},{"x":0.69,"y":0.98},{"x":0.75,"y":0.94},{"x":0.81,"y":0.9},{"x":0.87,"y":0.98},{"x":0.93,"y":0.94},{"x":0.99,"y":1.0},{"x":1.05,"y":0.94},{"x":1.11,"y":0.92},{"x":1.17,"y":1.0},{"x":1.23,"y":0.94},{"x":1.29,"y":0.98},{"x":1.37,"y":0.94},{"x":1.47,"y":1.0},
{"x":0.47,"y":1.12},{"x":0.53,"y":1.18},{"x":0.61,"y":1.1},{"x":0.67,"y":1.14},{"x":0.73,"y":1.1},{"x":0.79,"y":1.08},{"x":0.85,"y":1.14},{"x":0.91,"y":1.08},{"x":0.97,"y":1.14},{"x":1.03,"y":1.1},{"x":1.09,"y":1.06},{"x":1.15,"y":1.12},{"x":1.21,"y":1.08},{"x":1.27,"y":1.16},{"x":1.33,"y":1.08},{"x":1.41,"y":1.12},{"x":1.51,"y":1.14},
{"x":0.45,"y":1.24},{"x":0.53,"y":1.28},{"x":0.61,"y":1.24},{"x":0.67,"y":1.3},{"x":0.73,"y":1.22},{"x":0.79,"y":1.26},{"x":0.85,"y":1.22},{"x":0.91,"y":1.28},{"x":0.97,"y":1.22},{"x":1.03,"y":1.28},{"x":1.09,"y":1.24},{"x":1.15,"y":1.3},{"x":1.21,"y":1.24},{"x":1.27,"y":1.28},{"x":1.35,"y":1.24},{"x":1.45,"y":1.22},
{"x":0.49,"y":1.4},{"x":0.57,"y":1.46},{"x":0.63,"y":1.4},{"x":0.69,"y":1.46},{"x":0.75,"y":1.42},{"x":0.81,"y":1.38},{"x":0.87,"y":1.44},{"x":0.93,"y":1.38},{"x":0.99,"y":1.44},{"x":1.05,"y":1.4},{"x":1.11,"y":1.36},{"x":1.17,"y":1.42},{"x":1.23,"y":1.38},{"x":1.31,"y":1.44},{"x":1.39,"y":1.4},
{"x":0.55,"y":1.6},{"x":0.63,"y":1.56},{"x":0.71,"y":1.62},{"x":0.79,"y":1.56},{"x":0.87,"y":1.6},{"x":0.95,"y":1.66},{"x":1.03,"y":1.58},{"x":1.11,"y":1.64},{"x":1.19,"y":1.56},{"x":1.29,"y":1.62},{"x":1.39,"y":1.56},
{"x":0.6,"y":1.86},{"x":0.74,"y":1.9},{"x":0.9,"y":1.84},{"x":1.06,"y":1.92},{"x":1.22,"y":1.88},{"x":1.38,"y":1.94},
{"x":0.5,"y":0.6},{"x":0.62,"y":0.56},{"x":0.7,"y":0.6},{"x":0.76,"y":0.54},{"x":0.86,"y":0.58},{"x":0.94,"y":0.56},{"x":1.02,"y":0.6},{"x":1.08,"y":0.6},
{"x":0.49,"y":0.72},{"x":0.55,"y":0.76},{"x":0.61,"y":0.7},{"x":0.67,"y":0.74},{"x":0.73,"y":0.7},{"x":0.79,"y":0.74},{"x":0.85,"y":0.7},{"x":0.91,"y":0.74},{"x":0.97,"y":0.7},{"x":1.03,"y":0.74},{"x":1.09,"y":0.78},{"x":1.15,"y":0.72},{"x":1.23,"y":0.72},{"x":1.33,"y":0.8},
{"x":0.41,"y":0.88},{"x":0.47,"y":0.86},{"x":0.53,"y":0.9},{"x":0.59,"y":0.86},{"x":0.65,"y":0.9},{"x":0.71,"y":0.86},{"x":0.77,"y":0.9},{"x":0.83,"y":0.86},{"x":0.89,"y":0.9},{"x":0.95,"y":0.86},{"x":1.01,"y":0.88},{"x":1.07,"y":0.9},{"x":1.13,"y":0.86},{"x":1.19,"y":0.9},{"x":1.27,"y":0.88},{"x":1.37,"y":0.86},
{"x":0.45,"y":1.04},{"x":0.51,"y":1.0},{"x":0.57,"y":1.06},{"x":0.63,"y":1.02},{"x":0.69,"y":1.04},{"x":0.75,"y":1.0},{"x":0.81,"y":1.06},{"x":0.87,"y":1.02},{"x":0.93,"y":1.06},{"x":0.99,"y":1.02},{"x":1.05,"y":1.06},{"x":1.11,"y":1.0},{"x":1.17,"y":1.04},{"x":1.23,"y":1.0},{"x":1.31,"y":1.04},{"x":1.41,"y":1.02},
{"x":0.43,"y":1.16},{"x":0.49,"y":1.2},{"x":0.57,"y":1.18},{"x":0.63,"y":1.14},{"x":0.69,"y":1.2},{"x":0.75,"y":1.16},{"x":0.81,"y":1.2},{"x":0.87,"y":1.16},{"x":0.93,"y":1.2},{"x":0.99,"y":1.16},{"x":1.05,"y":1.18},{"x":1.11,"y":1.14},{"x":1.17,"y":1.2},{"x":1.25,"y":1.16},{"x":1.35,"y":1.18},
{"x":0.47,"y":1.32},{"x":0.55,"y":1.34},{"x":0.63,"y":1.32},{"x":0.69,"y":1.34},{"x":0.75,"y":1.36},{"x":0.81,"y":1.32},{"x":0.87,"y":1.34},{"x":0.93,"y":1.32},{"x":0.99,"y":1.36},{"x":1.05,"y":1.34},{"x":1.11,"y":1.32},{"x":1.19,"y":1.34},{"x":1.29,"y":1.32},
{"x":0.53,"y":1.52},{"x":0.61,"y":1.5},{"x":0.67,"y":1.54},{"x":0.73,"y":1.48},{"x":0.79,"y":1.52},{"x":0.85,"y":1.5},{"x":0.91,"y":1.54},{"x":0.97,"y":1.48},{"x":1.03,"y":1.52},{"x":1.09,"y":1.5},{"x":1.15,"y":1.54},{"x":1.23,"y":1.5},{"x":1.33,"y":1.52}
],
"c": [
{"x":-0.08,"y":4.06},{"x":0.24,"y":4.09},{"x":-0.19,"y":3.77},{"x":0.67,"y":3.78},{"x":-0.22,"y":3.53},{"x":0.4,"y":3.61},{"x":0.58,"y":3.13},{"x":0.87,"y":2.96},{"x":1.27,"y":2.55},{"x":1.02,"y":2.06},{"x":0.85,"y":2.33},{"x":0.75,"y":2.85},{"x":-0.62,"y":2.69},{"x":-0.86,"y":1.15},{"x":-0.89,"y":0.32},{"x":-0.68,"y":-0.14},{"x":0.61,"y":-1.21},{"x":-0.6,"y":-0.78},{"x":-0.47,"y":-1.29},{"x":-0.29,"y":-2.24},{"x":-0.15,"y":-2.38},{"x":0.0,"y":-2.14},{"x":0.17,"y":-2.38},{"x":-0.06,"y":-2.77},{"x":0.13,"y":-2.85},{"x":0.24,"y":-3.39},{"x":-0.52,"y":-3.9},{"x":-0.08,"y":-4.63},{"x":0.21,"y":-1.95},{"x":-0.01,"y":-1.95},{"x":0.13,"y":-1.7},{"x":0.83,"y":1.0},{"x":0.82,"y":0.78},{"x":0.79,"y":1.08},{"x":0.75,"y":1.35},{"x":0.65,"y":1.5},{"x":0.54,"y":1.74},{"x":0.56,"y":2.42},{"x":-0.31,"y":3.14},{"x":0.05,"y":3.11},{"x":0.25,"y":3.18},
{"x":-0.4,"y":2.62},{"x":-0.3,"y":2.88},{"x":-0.22,"y":2.55},{"x":-0.15,"y":3.02},{"x":-0.1,"y":2.72},{"x":-0.04,"y":2.6},{"x":0.02,"y":2.92},{"x":0.08,"y":2.68},{"x":0.12,"y":3.05},{"x":0.18,"y":2.78},{"x":0.22,"y":2.56},{"x":0.28,"y":2.86},{"x":0.33,"y":2.66},{"x":0.38,"y":2.95},{"x":-0.26,"y":2.7},{"x":0.05,"y":2.52},{"x":0.42,"y":2.58},{"x":-0.05,"y":2.85},{"x":0.15,"y":2.58},{"x":-0.35,"y":3.05},
{"x":-0.5,"y":2.1},{"x":-0.46,"y":2.3},{"x":-0.42,"y":2.02},{"x":-0.38,"y":2.42},{"x":-0.34,"y":2.18},{"x":-0.3,"y":2.35},{"x":-0.26,"y":2.06},{"x":-0.22,"y":2.28},{"x":-0.18,"y":2.48},{"x":-0.14,"y":2.12},{"x":-0.1,"y":2.38},{"x":-0.06,"y":2.04},{"x":-0.02,"y":2.24},{"x":0.02,"y":2.44},{"x":0.06,"y":2.1},{"x":0.1,"y":2.32},{"x":0.14,"y":2.0},{"x":0.18,"y":2.2},{"x":0.22,"y":2.42},{"x":0.26,"y":2.08},{"x":0.3,"y":2.3},{"x":0.34,"y":2.16},{"x":0.38,"y":2.4},{"x":0.43,"y":2.24},{"x":0.48,"y":2.06},{"x":-0.28,"y":2.46},{"x":-0.08,"y":2.22},{"x":0.0,"y":2.06},{"x":0.12,"y":2.46},{"x":0.2,"y":2.1},{"x":-0.2,"y":2.16},{"x":-0.4,"y":2.22},{"x":0.32,"y":2.46},
{"x":-0.6,"y":1.6},{"x":-0.56,"y":1.82},{"x":-0.52,"y":1.55},{"x":-0.48,"y":1.72},{"x":-0.45,"y":1.92},{"x":-0.42,"y":1.62},{"x":-0.38,"y":1.8},{"x":-0.35,"y":1.52},{"x":-0.32,"y":1.7},{"x":-0.29,"y":1.96},{"x":-0.26,"y":1.58},{"x":-0.23,"y":1.76},{"x":-0.2,"y":1.5},{"x":-0.17,"y":1.66},{"x":-0.14,"y":1.88},{"x":-0.11,"y":1.56},{"x":-0.08,"y":1.74},{"x":-0.05,"y":1.98},{"x":-0.02,"y":1.62},{"x":0.01,"y":1.84},{"x":0.04,"y":1.52},{"x":0.07,"y":1.7},{"x":0.1,"y":1.92},{"x":0.13,"y":1.58},{"x":0.16,"y":1.78},{"x":0.19,"y":1.54},{"x":0.22,"y":1.68},{"x":0.25,"y":1.9},{"x":0.28,"y":1.6},{"x":0.31,"y":1.8},{"x":0.34,"y":1.52},{"x":0.38,"y":1.72},{"x":0.42,"y":1.94},{"x":0.46,"y":1.64},{"x":0.5,"y":1.82},{"x":0.55,"y":1.56},{"x":-0.36,"y":1.9},{"x":-0.12,"y":1.96},{"x":0.06,"y":1.96},{"x":0.2,"y":1.96},{"x":-0.46,"y":1.5},{"x":-0.24,"y":1.86},{"x":0.0,"y":1.7},{"x":0.14,"y":1.66},{"x":-0.06,"y":1.82},{"x":0.3,"y":1.7},
{"x":-0.7,"y":1.22},{"x":-0.66,"y":1.4},{"x":-0.62,"y":1.08},{"x":-0.58,"y":1.3},{"x":-0.55,"y":1.48},{"x":-0.52,"y":1.14},{"x":-0.49,"y":1.36},{"x":-0.46,"y":1.02},{"x":-0.43,"y":1.24},{"x":-0.4,"y":1.44},{"x":-0.37,"y":1.1},{"x":-0.34,"y":1.32},{"x":-0.31,"y":1.5},{"x":-0.28,"y":1.18},{"x":-0.25,"y":1.38},{"x":-0.22,"y":1.04},{"x":-0.19,"y":1.26},{"x":-0.16,"y":1.46},{"x":-0.13,"y":1.12},{"x":-0.1,"y":1.34},{"x":-0.07,"y":1.02},{"x":-0.04,"y":1.22},{"x":-0.01,"y":1.42},{"x":0.02,"y":1.08},{"x":0.05,"y":1.3},{"x":0.08,"y":1.48},{"x":0.11,"y":1.16},{"x":0.14,"y":1.36},{"x":0.17,"y":1.04},{"x":0.2,"y":1.24},{"x":0.23,"y":1.44},{"x":0.26,"y":1.12},{"x":0.29,"y":1.32},{"x":0.32,"y":1.02},{"x":0.35,"y":1.2},{"x":0.38,"y":1.4},{"x":0.42,"y":1.1},{"x":0.46,"y":1.3},{"x":0.5,"y":1.18},{"x":0.55,"y":1.38},{"x":-0.6,"y":1.0},{"x":-0.48,"y":1.18},{"x":-0.3,"y":1.24},{"x":-0.2,"y":1.1},{"x":-0.12,"y":1.24},{"x":0.0,"y":1.28},{"x":0.1,"y":1.22},{"x":0.24,"y":1.28},{"x":-0.42,"y":1.34},{"x":0.36,"y":1.3},{"x":-0.05,"y":1.4},{"x":0.15,"y":1.46},
{"x":-0.75,"y":0.85},{"x":-0.7,"y":0.62},{"x":-0.66,"y":0.78},{"x":-0.62,"y":0.96},{"x":-0.58,"y":0.54},{"x":-0.55,"y":0.7},{"x":-0.52,"y":0.88},{"x":-0.49,"y":0.6},{"x":-0.46,"y":0.76},{"x":-0.43,"y":0.94},{"x":-0.4,"y":0.52},{"x":-0.37,"y":0.68},{"x":-0.34,"y":0.86},{"x":-0.31,"y":0.58},{"x":-0.28,"y":0.74},{"x":-0.25,"y":0.92},{"x":-0.22,"y":0.56},{"x":-0.19,"y":0.72},{"x":-0.16,"y":0.9},{"x":-0.13,"y":0.62},{"x":-0.1,"y":0.8},{"x":-0.07,"y":0.98},{"x":-0.04,"y":0.54},{"x":-0.01,"y":0.7},{"x":0.02,"y":0.88},{"x":0.05,"y":0.6},{"x":0.08,"y":0.78},{"x":0.11,"y":0.96},{"x":0.14,"y":0.52},{"x":0.17,"y":0.68},{"x":0.2,"y":0.86},{"x":0.23,"y":0.58},{"x":0.26,"y":0.74},{"x":0.29,"y":0.92},{"x":0.32,"y":0.64},{"x":0.35,"y":0.82},{"x":0.4,"y":0.56},{"x":0.44,"y":0.74},{"x":0.48,"y":0.9},{"x":-0.8,"y":0.72},{"x":-0.3,"y":0.98},{"x":-0.08,"y":0.64},{"x":0.12,"y":0.7},{"x":0.0,"y":0.94},{"x":-0.2,"y":0.8},{"x":-0.45,"y":0.66},{"x":0.22,"y":0.98},{"x":-0.14,"y":0.5},{"x":0.3,"y":0.5},
{"x":-0.65,"y":0.35},{"x":-0.6,"y":0.12},{"x":-0.56,"y":0.28},{"x":-0.52,"y":0.44},{"x":-0.48,"y":0.06},{"x":-0.44,"y":0.22},{"x":-0.4,"y":0.38},{"x":-0.36,"y":0.1},{"x":-0.32,"y":0.3},{"x":-0.28,"y":0.46},{"x":-0.24,"y":0.16},{"x":-0.2,"y":0.34},{"x":-0.16,"y":0.04},{"x":-0.12,"y":0.24},{"x":-0.08,"y":0.42},{"x":-0.04,"y":0.12},{"x":0.0,"y":0.32},{"x":0.04,"y":0.48},{"x":0.08,"y":0.2},{"x":0.12,"y":0.38},{"x":0.16,"y":0.08},{"x":0.2,"y":0.26},{"x":0.24,"y":0.44},{"x":0.28,"y":0.14},{"x":0.32,"y":0.32},{"x":0.36,"y":0.06},{"x":0.4,"y":0.22},{"x":0.44,"y":0.4},{"x":-0.9,"y":0.32},{"x":-0.3,"y":0.18},{"x":-0.1,"y":0.1},{"x":0.06,"y":0.3},{"x":0.18,"y":0.46},{"x":-0.22,"y":0.42},{"x":-0.5,"y":0.2},{"x":0.3,"y":0.42},{"x":0.1,"y":0.02},
{"x":-0.52,"y":-0.1},{"x":-0.46,"y":-0.3},{"x":-0.4,"y":-0.45},{"x":-0.35,"y":-0.18},{"x":-0.3,"y":-0.36},{"x":-0.25,"y":-0.06},{"x":-0.2,"y":-0.26},{"x":-0.15,"y":-0.44},{"x":-0.1,"y":-0.14},{"x":-0.05,"y":-0.32},{"x":0.0,"y":-0.48},{"x":0.05,"y":-0.08},{"x":0.1,"y":-0.24},{"x":0.15,"y":-0.4},{"x":0.2,"y":-0.16},{"x":0.25,"y":-0.34},{"x":0.3,"y":-0.04},{"x":0.35,"y":-0.22},{"x":0.4,"y":-0.42},{"x":-0.28,"y":-0.48},{"x":-0.12,"y":-0.3},{"x":0.08,"y":-0.38},{"x":0.02,"y":-0.2},{"x":0.18,"y":-0.06},{"x":-0.38,"y":-0.04},{"x":0.44,"y":-0.12},
{"x":-0.48,"y":-0.6},{"x":-0.42,"y":-0.85},{"x":-0.38,"y":-1.05},{"x":-0.34,"y":-0.7},{"x":-0.3,"y":-0.95},{"x":-0.26,"y":-0.56},{"x":-0.22,"y":-0.8},{"x":-0.18,"y":-1.12},{"x":-0.14,"y":-0.64},{"x":-0.1,"y":-0.9},{"x":-0.06,"y":-0.54},{"x":-0.02,"y":-0.76},{"x":0.02,"y":-1.02},{"x":0.06,"y":-0.62},{"x":0.1,"y":-0.86},{"x":0.14,"y":-1.15},{"x":0.18,"y":-0.7},{"x":0.22,"y":-0.96},{"x":0.26,"y":-0.58},{"x":0.3,"y":-0.82},{"x":0.35,"y":-0.64},{"x":0.4,"y":-0.9},{"x":0.45,"y":-0.72},{"x":-0.5,"y":-1.0},{"x":0.08,"y":-1.2},
{"x":-0.3,"y":-1.35},{"x":-0.2,"y":-1.6},{"x":-0.12,"y":-1.3},{"x":-0.05,"y":-1.8},{"x":0.0,"y":-1.45},{"x":0.04,"y":-2.0},{"x":0.08,"y":-1.55},{"x":0.14,"y":-1.32},{"x":0.18,"y":-1.85},{"x":-0.1,"y":-2.1},{"x":0.1,"y":-2.3},{"x":-0.18,"y":-1.42},{"x":0.22,"y":-1.5},
{"x":-0.36,"y":2.3},{"x":-0.24,"y":2.2},{"x":-0.12,"y":2.28},{"x":0.0,"y":2.18},{"x":0.08,"y":2.26},{"x":0.16,"y":2.34},{"x":0.28,"y":2.2},
{"x":-0.5,"y":1.88},{"x":-0.4,"y":1.76},{"x":-0.3,"y":1.84},{"x":-0.2,"y":1.72},{"x":-0.1,"y":1.8},{"x":-0.02,"y":1.9},{"x":0.06,"y":1.78},{"x":0.14,"y":1.86},{"x":0.22,"y":1.76},{"x":0.32,"y":1.9},{"x":0.4,"y":1.8},
{"x":-0.56,"y":1.38},{"x":-0.46,"y":1.46},{"x":-0.36,"y":1.38},{"x":-0.26,"y":1.46},{"x":-0.18,"y":1.36},{"x":-0.08,"y":1.44},{"x":0.02,"y":1.36},{"x":0.1,"y":1.42},{"x":0.18,"y":1.34},{"x":0.26,"y":1.42},{"x":0.34,"y":1.36},{"x":0.44,"y":1.44},
{"x":-0.64,"y":1.14},{"x":-0.54,"y":1.06},{"x":-0.44,"y":1.14},{"x":-0.34,"y":1.06},{"x":-0.26,"y":1.14},{"x":-0.16,"y":1.04},{"x":-0.08,"y":1.14},{"x":0.0,"y":1.06},{"x":0.08,"y":1.12},{"x":0.16,"y":1.06},{"x":0.24,"y":1.14},{"x":0.34,"y":1.08},{"x":0.46,"y":1.16},
{"x":-0.6,"y":0.84},{"x":-0.5,"y":0.76},{"x":-0.4,"y":0.84},{"x":-0.32,"y":0.76},{"x":-0.24,"y":0.84},{"x":-0.16,"y":0.76},{"x":-0.06,"y":0.84},{"x":0.04,"y":0.76},{"x":0.12,"y":0.84},{"x":0.2,"y":0.78},{"x":0.3,"y":0.84},{"x":0.4,"y":0.76},
{"x":-0.56,"y":0.5},{"x":-0.46,"y":0.56},{"x":-0.36,"y":0.48},{"x":-0.26,"y":0.56},{"x":-0.18,"y":0.48},{"x":-0.08,"y":0.56},{"x":0.0,"y":0.46},{"x":0.08,"y":0.54},{"x":0.16,"y":0.46},{"x":0.24,"y":0.54},{"x":0.36,"y":0.48},
{"x":-0.52,"y":0.24},{"x":-0.42,"y":0.16},{"x":-0.34,"y":0.22},{"x":-0.26,"y":0.26},{"x":-0.18,"y":0.18},{"x":-0.06,"y":0.2},{"x":0.02,"y":0.16},{"x":0.12,"y":0.22},{"x":0.22,"y":0.16},{"x":0.34,"y":0.2},
{"x":-0.4,"y":-0.24},{"x":-0.3,"y":-0.16},{"x":-0.22,"y":-0.2},{"x":-0.12,"y":-0.24},{"x":-0.04,"y":-0.16},{"x":0.04,"y":-0.26},{"x":0.12,"y":-0.18},{"x":0.22,"y":-0.24},{"x":0.32,"y":-0.16},
{"x":-0.36,"y":-0.62},{"x":-0.24,"y":-0.7},{"x":-0.16,"y":-0.58},{"x":-0.06,"y":-0.66},{"x":0.02,"y":-0.58},{"x":0.1,"y":-0.68},{"x":0.2,"y":-0.6},{"x":0.3,"y":-0.68},
{"x":-0.32,"y":2.02},{"x":-0.18,"y":2.06},{"x":-0.04,"y":2.0},{"x":0.08,"y":2.04},{"x":0.22,"y":2.0},
{"x":-0.44,"y":1.68},{"x":-0.34,"y":1.62},{"x":-0.24,"y":1.66},{"x":-0.14,"y":1.62},{"x":-0.04,"y":1.66},{"x":0.04,"y":1.62},{"x":0.12,"y":1.7},{"x":0.2,"y":1.62},{"x":0.3,"y":1.66},
{"x":-0.5,"y":1.26},{"x":-0.4,"y":1.22},{"x":-0.32,"y":1.28},{"x":-0.24,"y":1.22},{"x":-0.14,"y":1.28},{"x":-0.06,"y":1.3},{"x":0.04,"y":1.24},{"x":0.12,"y":1.3},{"x":0.2,"y":1.2},{"x":0.3,"y":1.26},
{"x":-0.52,"y":0.98},{"x":-0.42,"y":1.0},{"x":-0.34,"y":0.94},{"x":-0.26,"y":1.0},{"x":-0.18,"y":0.96},{"x":-0.1,"y":1.0},{"x":-0.02,"y":0.96},{"x":0.06,"y":1.0},{"x":0.14,"y":0.94},{"x":0.24,"y":1.0},{"x":0.34,"y":0.96},
{"x":-0.62,"y":0.66},{"x":-0.52,"y":0.64},{"x":-0.42,"y":0.7},{"x":-0.34,"y":0.64},{"x":-0.26,"y":0.66},{"x":-0.16,"y":0.62},{"x":-0.06,"y":0.7},{"x":0.02,"y":0.64},{"x":0.1,"y":0.62},{"x":0.18,"y":0.64},{"x":0.28,"y":0.66},{"x":0.38,"y":0.62},
{"x":-0.46,"y":0.36},{"x":-0.36,"y":0.32},{"x":-0.26,"y":0.38},{"x":-0.16,"y":0.3},{"x":-0.06,"y":0.36},{"x":0.02,"y":0.4},{"x":0.1,"y":0.32},{"x":0.2,"y":0.36},{"x":0.28,"y":0.3},
{"x":-0.44,"y":0.08},{"x":-0.32,"y":0.04},{"x":-0.22,"y":0.08},{"x":-0.12,"y":0.04},{"x":-0.02,"y":0.08},{"x":0.06,"y":0.1},{"x":0.14,"y":0.04},{"x":0.24,"y":0.08},
{"x":-0.34,"y":-0.38},{"x":-0.22,"y":-0.42},{"x":-0.1,"y":-0.4},{"x":0.0,"y":-0.36},{"x":0.12,"y":-0.44},{"x":0.24,"y":-0.4},
{"x":-0.26,"y":-0.92},{"x":-0.14,"y":-0.84},{"x":-0.04,"y":-0.96},{"x":0.06,"y":-0.88},{"x":0.16,"y":-0.92}
],
"d": [
{"x":-0.12,"y":4.92},{"x":-0.06,"y":2.97},{"x":0.15,"y":2.97},{"x":-0.06,"y":2.69},{"x":0.21,"y":2.67},{"x":0.45,"y":2.66},{"x":0.12,"y":2.55},{"x":0.32,"y":2.48},{"x":-0.28,"y":2.19},{"x":-0.1,"y":2.18},{"x":0.08,"y":2.11},{"x":0.33,"y":2.16},{"x":0.4,"y":1.96},{"x":0.45,"y":1.88},{"x":-0.56,"y":1.83},{"x":-0.31,"y":1.72},{"x":0.64,"y":1.66},{"x":0.92,"y":1.64},{"x":0.98,"y":1.73},{"x":0.66,"y":1.19},{"x":0.8,"y":0.78},{"x":0.95,"y":0.82},{"x":0.52,"y":0.55},{"x":0.54,"y":0.8},{"x":-0.88,"y":1.14},{"x":-0.78,"y":1.16},{"x":-0.69,"y":0.96},{"x":-0.7,"y":0.77},{"x":-0.9,"y":-0.47},{"x":-0.93,"y":-1.1},{"x":-0.82,"y":-1.23},{"x":0.42,"y":-0.05},{"x":0.37,"y":-2.15},{"x":-0.04,"y":-3.25},{"x":-0.45,"y":-1.95},{"x":-0.34,"y":-1.87},{"x":-0.24,"y":-2.24},{"x":-0.32,"y":-2.15},{"x":-0.08,"y":-1.89},{"x":-0.48,"y":-1.5},{"x":-0.44,"y":-1.58},{"x":0.38,"y":-1.0},{"x":0.32,"y":-1.04},{"x":-0.66,"y":-0.51},{"x":-0.68,"y":-0.72},
{"x":-0.55,"y":1.05},{"x":-0.48,"y":1.3},{"x":-0.42,"y":1.5},{"x":-0.38,"y":1.12},{"x":-0.32,"y":1.38},{"x":-0.28,"y":1.02},{"x":-0.24,"y":1.24},{"x":-0.2,"y":1.56},{"x":-0.16,"y":1.1},{"x":-0.12,"y":1.34},{"x":-0.08,"y":1.46},{"x":-0.04,"y":1.18},{"x":0.0,"y":1.42},{"x":0.04,"y":1.06},{"x":0.08,"y":1.28},{"x":0.12,"y":1.52},{"x":0.16,"y":1.14},{"x":0.2,"y":1.36},{"x":0.25,"y":1.04},{"x":0.3,"y":1.26},{"x":0.36,"y":1.44},{"x":0.42,"y":1.16},{"x":-0.36,"y":1.58},{"x":-0.1,"y":1.6},{"x":0.05,"y":1.58},{"x":-0.5,"y":1.18},{"x":0.22,"y":1.2},{"x":-0.22,"y":1.44},
{"x":-0.65,"y":0.72},{"x":-0.6,"y":0.9},{"x":-0.56,"y":0.56},{"x":-0.52,"y":0.8},{"x":-0.48,"y":0.98},{"x":-0.44,"y":0.64},{"x":-0.4,"y":0.86},{"x":-0.36,"y":0.52},{"x":-0.33,"y":0.74},{"x":-0.3,"y":0.94},{"x":-0.27,"y":0.6},{"x":-0.24,"y":0.82},{"x":-0.21,"y":0.5},{"x":-0.18,"y":0.7},{"x":-0.15,"y":0.92},{"x":-0.12,"y":0.58},{"x":-0.09,"y":0.78},{"x":-0.06,"y":0.98},{"x":-0.03,"y":0.64},{"x":0.0,"y":0.84},{"x":0.03,"y":0.54},{"x":0.06,"y":0.74},{"x":0.09,"y":0.96},{"x":0.12,"y":0.62},{"x":0.15,"y":0.82},{"x":0.18,"y":0.52},{"x":0.21,"y":0.7},{"x":0.24,"y":0.9},{"x":0.28,"y":0.6},{"x":0.32,"y":0.8},{"x":0.36,"y":0.98},{"x":0.4,"y":0.66},{"x":0.45,"y":0.86},{"x":-0.38,"y":0.7},{"x":-0.2,"y":0.96},{"x":-0.05,"y":0.7},{"x":0.1,"y":0.86},{"x":0.26,"y":0.76},{"x":-0.5,"y":0.6},{"x":0.02,"y":0.94},
{"x":-0.6,"y":0.2},{"x":-0.56,"y":0.4},{"x":-0.52,"y":0.08},{"x":-0.48,"y":0.28},{"x":-0.44,"y":0.46},{"x":-0.4,"y":0.14},{"x":-0.36,"y":0.34},{"x":-0.33,"y":0.02},{"x":-0.3,"y":0.22},{"x":-0.27,"y":0.42},{"x":-0.24,"y":0.1},{"x":-0.21,"y":0.3},{"x":-0.18,"y":0.48},{"x":-0.15,"y":0.16},{"x":-0.12,"y":0.36},{"x":-0.09,"y":0.04},{"x":-0.06,"y":0.24},{"x":-0.03,"y":0.44},{"x":0.0,"y":0.12},{"x":0.03,"y":0.32},{"x":0.06,"y":0.06},{"x":0.09,"y":0.26},{"x":0.12,"y":0.46},{"x":0.15,"y":0.14},{"x":0.18,"y":0.34},{"x":0.21,"y":0.04},{"x":0.24,"y":0.22},{"x":0.28,"y":0.42},{"x":0.32,"y":0.12},{"x":0.36,"y":0.3},{"x":0.4,"y":0.06},{"x":0.45,"y":0.2},{"x":-0.4,"y":0.44},{"x":-0.2,"y":0.06},{"x":0.08,"y":0.4},{"x":-0.1,"y":0.3},{"x":0.2,"y":0.4},{"x":-0.5,"y":0.32},
{"x":-0.6,"y":-0.1},{"x":-0.55,"y":-0.32},{"x":-0.5,"y":-0.04},{"x":-0.46,"y":-0.24},{"x":-0.42,"y":-0.44},{"x":-0.38,"y":-0.14},{"x":-0.34,"y":-0.34},{"x":-0.3,"y":-0.06},{"x":-0.27,"y":-0.26},{"x":-0.24,"y":-0.46},{"x":-0.21,"y":-0.16},{"x":-0.18,"y":-0.36},{"x":-0.15,"y":-0.08},{"x":-0.12,"y":-0.28},{"x":-0.09,"y":-0.48},{"x":-0.06,"y":-0.18},{"x":-0.03,"y":-0.38},{"x":0.0,"y":-0.1},{"x":0.03,"y":-0.3},{"x":0.06,"y":-0.5},{"x":0.09,"y":-0.2},{"x":0.12,"y":-0.4},{"x":0.15,"y":-0.12},{"x":0.18,"y":-0.32},{"x":0.22,"y":-0.04},{"x":0.26,"y":-0.24},{"x":0.3,"y":-0.44},{"x":0.34,"y":-0.16},{"x":0.38,"y":-0.36},{"x":-0.44,"y":-0.1},{"x":-0.2,"y":-0.42},{"x":0.04,"y":-0.06},{"x":0.2,"y":-0.46},{"x":-0.32,"y":-0.44},{"x":-0.08,"y":-0.26},
{"x":-0.55,"y":-0.6},{"x":-0.5,"y":-0.82},{"x":-0.45,"y":-0.66},{"x":-0.4,"y":-0.92},{"x":-0.36,"y":-0.56},{"x":-0.32,"y":-0.76},{"x":-0.28,"y":-0.98},{"x":-0.24,"y":-0.62},{"x":-0.2,"y":-0.84},{"x":-0.16,"y":-0.54},{"x":-0.12,"y":-0.72},{"x":-0.08,"y":-0.94},{"x":-0.04,"y":-0.6},{"x":0.0,"y":-0.8},{"x":0.04,"y":-0.98},{"x":0.08,"y":-0.66},{"x":0.12,"y":-0.86},{"x":0.16,"y":-0.56},{"x":0.2,"y":-0.74},{"x":0.25,"y":-0.92},{"x":0.3,"y":-0.62},{"x":0.35,"y":-0.8},{"x":-0.3,"y":-0.88},{"x":-0.1,"y":-0.66},{"x":0.1,"y":-0.96},{"x":-0.22,"y":-0.72},
{"x":-0.42,"y":-1.12},{"x":-0.36,"y":-1.36},{"x":-0.3,"y":-1.06},{"x":-0.25,"y":-1.5},{"x":-0.2,"y":-1.22},{"x":-0.15,"y":-1.04},{"x":-0.1,"y":-1.4},{"x":-0.05,"y":-1.16},{"x":0.0,"y":-1.3},{"x":0.05,"y":-1.06},{"x":0.1,"y":-1.5},{"x":0.15,"y":-1.2},{"x":0.2,"y":-1.08},{"x":0.25,"y":-1.3},{"x":-0.35,"y":-1.6},{"x":0.0,"y":-1.58},{"x":-0.18,"y":-1.7},
{"x":-0.4,"y":1.26},{"x":-0.3,"y":1.18},{"x":-0.18,"y":1.24},{"x":-0.08,"y":1.2},{"x":0.02,"y":1.26},{"x":0.12,"y":1.2},{"x":0.24,"y":1.28},
{"x":-0.46,"y":0.9},{"x":-0.36,"y":0.96},{"x":-0.26,"y":0.88},{"x":-0.16,"y":0.96},{"x":-0.06,"y":0.88},{"x":0.04,"y":0.96},{"x":0.14,"y":0.9},{"x":0.22,"y":0.98},{"x":0.32,"y":0.9},
{"x":-0.5,"y":0.64},{"x":-0.4,"y":0.56},{"x":-0.3,"y":0.66},{"x":-0.22,"y":0.58},{"x":-0.12,"y":0.66},{"x":-0.02,"y":0.56},{"x":0.08,"y":0.64},{"x":0.16,"y":0.58},{"x":0.26,"y":0.66},{"x":0.36,"y":0.58},
{"x":-0.46,"y":0.3},{"x":-0.36,"y":0.26},{"x":-0.28,"y":0.34},{"x":-0.18,"y":0.26},{"x":-0.08,"y":0.34},{"x":0.02,"y":0.26},{"x":0.1,"y":0.34},{"x":0.18,"y":0.26},{"x":0.28,"y":0.32},
{"x":-0.56,"y":0.02},{"x":-0.44,"y":-0.02},{"x":-0.34,"y":0.06},{"x":-0.24,"y":-0.02},{"x":-0.14,"y":0.06},{"x":-0.04,"y":-0.02},{"x":0.06,"y":0.04},{"x":0.14,"y":-0.04},{"x":0.26,"y":0.04},{"x":0.36,"y":-0.02},
{"x":-0.5,"y":-0.3},{"x":-0.4,"y":-0.26},{"x":-0.3,"y":-0.34},{"x":-0.22,"y":-0.26},{"x":-0.12,"y":-0.34},{"x":-0.02,"y":-0.26},{"x":0.08,"y":-0.34},{"x":0.16,"y":-0.26},{"x":0.26,"y":-0.34},
{"x":-0.46,"y":-0.56},{"x":-0.36,"y":-0.64},{"x":-0.26,"y":-0.58},{"x":-0.16,"y":-0.66},{"x":-0.06,"y":-0.58},{"x":0.04,"y":-0.66},{"x":0.12,"y":-0.58},{"x":0.22,"y":-0.64},
{"x":-0.4,"y":-0.86},{"x":-0.3,"y":-0.94},{"x":-0.2,"y":-0.86},{"x":-0.1,"y":-0.94},{"x":0.0,"y":-0.86},{"x":0.08,"y":-0.92},{"x":0.18,"y":-0.88},
{"x":-0.3,"y":-1.2},{"x":-0.18,"y":-1.14},{"x":-0.06,"y":-1.24},{"x":0.06,"y":-1.16},{"x":0.16,"y":-1.3},
{"x":-0.36,"y":0.8},{"x":-0.26,"y":0.76},{"x":-0.16,"y":0.82},{"x":-0.06,"y":0.78},{"x":0.04,"y":0.82},{"x":0.12,"y":0.76},{"x":0.2,"y":0.8},
{"x":-0.42,"y":0.5},{"x":-0.32,"y":0.46},{"x":-0.22,"y":0.42},{"x":-0.12,"y":0.48},{"x":-0.02,"y":0.42},{"x":0.06,"y":0.48},{"x":0.14,"y":0.42},{"x":0.24,"y":0.48},
{"x":-0.44,"y":0.16},{"x":-0.34,"y":0.12},{"x":-0.26,"y":0.18},{"x":-0.16,"y":0.1},{"x":-0.06,"y":0.16},{"x":0.04,"y":0.1},{"x":0.12,"y":0.18},{"x":0.22,"y":0.12},
{"x":-0.46,"y":-0.16},{"x":-0.36,"y":-0.2},{"x":-0.26,"y":-0.12},{"x":-0.16,"y":-0.2},{"x":-0.06,"y":-0.12},{"x":0.04,"y":-0.18},{"x":0.12,"y":-0.14},{"x":0.22,"y":-0.18},
{"x":-0.4,"y":-0.5},{"x":-0.3,"y":-0.54},{"x":-0.2,"y":-0.5},{"x":-0.1,"y":-0.54},{"x":0.0,"y":-0.48},{"x":0.1,"y":-0.52},{"x":0.18,"y":-0.5},
{"x":-0.36,"y":-0.78},{"x":-0.26,"y":-0.74},{"x":-0.14,"y":-0.8},{"x":-0.04,"y":-0.74},{"x":0.06,"y":-0.8},{"x":0.14,"y":-0.76},
{"x":-0.24,"y":-1.04},{"x":-0.12,"y":-1.08},{"x":0.0,"y":-1.04},{"x":0.1,"y":-1.1}
]
},
"config": {
"font": "DejaVu Sans",
"view": {"stroke": "#000000", "strokeWidth": 1.8},
"axis": {"domain": false, "grid": true, "gridColor": "#e6e6e6", "gridWidth": 1, "tickColor": "#000000", "tickSize": 7, "tickWidth": 1.5, "labelFontSize": 21, "labelColor": "#000000", "labelPadding": 4, "labelFlush": false, "labelOverlap": false, "titleFontSize": 25, "titleFontWeight": "normal", "titleColor": "#000000"},
"axisX": {"titlePadding": 5},
"axisY": {"titlePadding": 18},
"title": {"fontSize": 27, "fontWeight": "normal", "color": "#000000", "offset": -4}
},
"bounds": "flush",
"spacing": {"row": 160, "column": 108},
"padding": {"left": 12, "top": 14, "right": 5, "bottom": 5},
"columns": 2,
"concat": [
{
"title": "(a) RMSE 00 UTC, July 2015",
"width": 422, "height": 411,
"layer": [
{"data": {"name": "a"}, "mark": {"type": "circle", "color": "#ff0000", "size": 13, "opacity": 1},
"encoding": {
"x": {"field": "x", "type": "quantitative", "scale": {"domain": [0, 7], "nice": false}, "axis": {"title": "RMSE, station benchmark (ᵒC)", "values": [0,1,2,3,4,5,6,7], "format": "d"}},
"y": {"field": "y", "type": "quantitative", "scale": {"domain": [0, 7], "nice": false}, "axis": {"title": "RMSE, HRRR (ᵒC)", "values": [0,1,2,3,4,5,6,7], "format": "d"}}}},
{"data": {"values": [{"x": 0, "y": 0, "x2": 7, "y2": 7}]}, "mark": {"type": "rule", "color": "#000000", "strokeWidth": 1.8},
"encoding": {"x": {"field": "x", "type": "quantitative"}, "y": {"field": "y", "type": "quantitative"}, "x2": {"field": "x2"}, "y2": {"field": "y2"}}}
]
},
{
"title": "(b) RMSE 00 UTC, August 2018",
"width": 422, "height": 411,
"layer": [
{"data": {"name": "b"}, "mark": {"type": "circle", "color": "#ff0000", "size": 13, "opacity": 1},
"encoding": {
"x": {"field": "x", "type": "quantitative", "scale": {"domain": [0, 7], "nice": false}, "axis": {"title": "RMSE, station benchmark (ᵒC)", "values": [0,1,2,3,4,5,6,7], "format": "d"}},
"y": {"field": "y", "type": "quantitative", "scale": {"domain": [0, 7], "nice": false}, "axis": {"title": "RMSE, HRRR (ᵒC)", "values": [0,1,2,3,4,5,6,7], "format": "d"}}}},
{"data": {"values": [{"x": 0, "y": 0, "x2": 7, "y2": 7}]}, "mark": {"type": "rule", "color": "#000000", "strokeWidth": 1.8},
"encoding": {"x": {"field": "x", "type": "quantitative"}, "y": {"field": "y", "type": "quantitative"}, "x2": {"field": "x2"}, "y2": {"field": "y2"}}}
]
},
{
"title": "(c) Bias 00 UTC, July 2015",
"width": 422, "height": 411,
"layer": [
{"data": {"name": "c"}, "mark": {"type": "circle", "color": "#ff0000", "size": 13, "opacity": 1},
"encoding": {
"x": {"field": "x", "type": "quantitative", "scale": {"domain": [-5, 5], "nice": false}, "axis": {"title": "Bias, station benchmark (ᵒC)", "values": [-5,-3,-1,0,1,3,5], "format": "d"}},
"y": {"field": "y", "type": "quantitative", "scale": {"domain": [-5, 5], "nice": false}, "axis": {"title": "Bias, HRRR (ᵒC)", "values": [-5,-3,-1,0,1,3,5], "format": "d"}}}},
{"data": {"values": [{"y": 0}]}, "mark": {"type": "rule", "color": "#000000", "strokeWidth": 1.8},
"encoding": {"y": {"field": "y", "type": "quantitative"}}},
{"data": {"values": [{"x": 0}]}, "mark": {"type": "rule", "color": "#000000", "strokeWidth": 1.8},
"encoding": {"x": {"field": "x", "type": "quantitative"}}}
]
},
{
"title": "(d) Bias 00 UTC, August 2018",
"width": 422, "height": 411,
"layer": [
{"data": {"name": "d"}, "mark": {"type": "circle", "color": "#ff0000", "size": 13, "opacity": 1},
"encoding": {
"x": {"field": "x", "type": "quantitative", "scale": {"domain": [-5, 5], "nice": false}, "axis": {"title": "Bias, station benchmark (ᵒC)", "values": [-5,-3,-1,0,1,3,5], "format": "d"}},
"y": {"field": "y", "type": "quantitative", "scale": {"domain": [-5, 5], "nice": false}, "axis": {"title": "Bias, HRRR (ᵒC)", "values": [-5,-3,-1,0,1,3,5], "format": "d"}}}},
{"data": {"values": [{"y": 0}]}, "mark": {"type": "rule", "color": "#000000", "strokeWidth": 1.8},
"encoding": {"y": {"field": "y", "type": "quantitative"}}},
{"data": {"values": [{"x": 0}]}, "mark": {"type": "rule", "color": "#000000", "strokeWidth": 1.8},
"encoding": {"x": {"field": "x", "type": "quantitative"}}}
]
}
]
}
